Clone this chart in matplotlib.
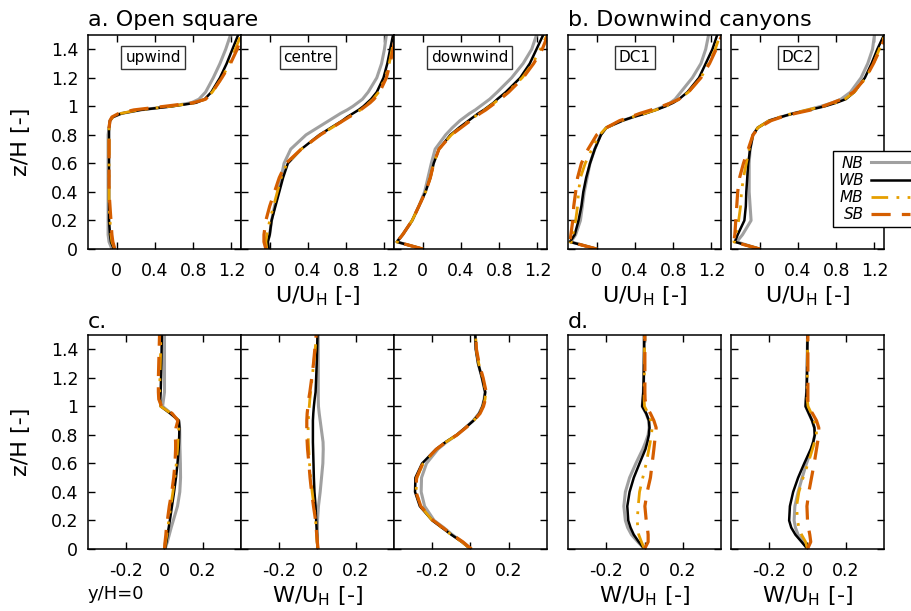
import numpy as np
import matplotlib.pyplot as plt
from matplotlib.ticker import FuncFormatter

# heights z/H (same grid for every profile of a row)
z_u = [0, 0.05, 0.1, 0.2, 0.3, 0.4, 0.5, 0.6, 0.7, 0.8, 0.85, 0.9, 0.925, 0.95, 0.975,
       1.0, 1.025, 1.05, 1.1, 1.2, 1.3, 1.4, 1.5]
z_w = [0, 0.05, 0.1, 0.15, 0.2, 0.3, 0.4, 0.5, 0.6, 0.7, 0.75, 0.8, 0.85, 0.9, 0.95,
       1.0, 1.05, 1.1, 1.2, 1.3, 1.4, 1.5]

series = ['NB', 'WB', 'MB', 'SB']
panels = ['upwind', 'centre', 'downwind', 'DC1', 'DC2']

# ---- U/UH profiles ----
u_upwind_nb = [-0.05, -0.08, -0.09, -0.09, -0.09, -0.09, -0.09, -0.09, -0.09, -0.09, -0.08, -0.07, -0.04,
               0.05, 0.25, 0.56, 0.78, 0.86, 0.93, 1.01, 1.08, 1.14, 1.19]
u_upwind_wb = [-0.03, -0.06, -0.07, -0.08, -0.08, -0.08, -0.08, -0.08, -0.08, -0.08, -0.08, -0.07, -0.04,
               0.05, 0.25, 0.58, 0.83, 0.92, 0.99, 1.08, 1.15, 1.21, 1.27]
u_upwind_mb = [-0.02, -0.05, -0.06, -0.07, -0.08, -0.08, -0.08, -0.08, -0.08, -0.08, -0.08, -0.07, -0.04,
               0.04, 0.23, 0.56, 0.82, 0.93, 1.0, 1.1, 1.18, 1.24, 1.3]
u_upwind_sb = [-0.02, -0.04, -0.05, -0.06, -0.07, -0.08, -0.08, -0.08, -0.08, -0.08, -0.08, -0.07, -0.05,
               0.02, 0.18, 0.5, 0.8, 0.93, 1.0, 1.1, 1.19, 1.26, 1.31]

u_centre_nb = [-0.01, -0.02, 0.0, 0.02, 0.05, 0.09, 0.12, 0.15, 0.22, 0.38, 0.5, 0.62, 0.68,
               0.74, 0.81, 0.87, 0.92, 0.97, 1.03, 1.12, 1.17, 1.2, 1.22]
u_centre_wb = [-0.01, -0.02, 0.0, 0.02, 0.06, 0.1, 0.14, 0.19, 0.33, 0.52, 0.64, 0.76, 0.81,
               0.87, 0.93, 0.98, 1.02, 1.06, 1.12, 1.19, 1.23, 1.26, 1.29]
u_centre_mb = [-0.03, -0.04, -0.03, 0.0, 0.04, 0.08, 0.12, 0.18, 0.33, 0.53, 0.65, 0.77, 0.83,
               0.89, 0.95, 1.0, 1.04, 1.08, 1.14, 1.21, 1.25, 1.28, 1.31]
u_centre_sb = [-0.04, -0.06, -0.06, -0.04, 0.0, 0.05, 0.1, 0.17, 0.33, 0.53, 0.65, 0.77, 0.83,
               0.89, 0.95, 1.0, 1.05, 1.09, 1.15, 1.22, 1.26, 1.29, 1.32]

u_downwind_nb = [0.0, -0.27, -0.21, -0.11, -0.04, 0.02, 0.055, 0.09, 0.13, 0.24, 0.31, 0.39, 0.44,
                 0.49, 0.55, 0.6, 0.65, 0.7, 0.78, 0.93, 1.05, 1.14, 1.19]
u_downwind_wb = [0.0, -0.27, -0.21, -0.11, -0.04, 0.03, 0.08, 0.115, 0.17, 0.29, 0.38, 0.48, 0.53,
                 0.58, 0.64, 0.69, 0.74, 0.78, 0.87, 1.02, 1.12, 1.19, 1.26]
u_downwind_mb = [0.0, -0.27, -0.21, -0.11, -0.04, 0.03, 0.08, 0.115, 0.17, 0.3, 0.39, 0.49, 0.54,
                 0.59, 0.65, 0.7, 0.75, 0.8, 0.89, 1.04, 1.15, 1.23, 1.3]
u_downwind_sb = [0.0, -0.27, -0.21, -0.11, -0.04, 0.03, 0.08, 0.115, 0.17, 0.3, 0.4, 0.5, 0.55,
                 0.6, 0.66, 0.71, 0.76, 0.81, 0.9, 1.05, 1.16, 1.25, 1.31]

u_dc1_nb = [0.0, -0.27, -0.22, -0.17, -0.15, -0.13, -0.1, -0.07, -0.02, 0.04, 0.1, 0.27, 0.38,
            0.5, 0.61, 0.7, 0.77, 0.82, 0.88, 1.0, 1.09, 1.14, 1.17]
u_dc1_wb = [0.0, -0.28, -0.23, -0.19, -0.16, -0.14, -0.11, -0.07, -0.02, 0.045, 0.1, 0.27, 0.38,
            0.51, 0.62, 0.72, 0.8, 0.86, 0.95, 1.07, 1.14, 1.21, 1.26]
u_dc1_mb = [0.0, -0.28, -0.25, -0.22, -0.2, -0.19, -0.17, -0.12, -0.05, 0.03, 0.1, 0.26, 0.37,
            0.5, 0.62, 0.72, 0.8, 0.86, 0.96, 1.09, 1.17, 1.24, 1.29]
u_dc1_sb = [0.0, -0.28, -0.27, -0.25, -0.24, -0.22, -0.2, -0.16, -0.09, 0.0, 0.1, 0.24, 0.35,
            0.45, 0.57, 0.68, 0.78, 0.86, 0.96, 1.09, 1.18, 1.25, 1.31]

u_dc2_nb = [0.0, -0.24, -0.18, -0.09, -0.1, -0.11, -0.11, -0.11, -0.1, -0.07, -0.02, 0.1, 0.22,
            0.35, 0.5, 0.64, 0.76, 0.85, 0.95, 1.06, 1.13, 1.18, 1.2]
u_dc2_wb = [0.0, -0.26, -0.23, -0.16, -0.145, -0.14, -0.13, -0.12, -0.1, -0.07, -0.02, 0.1, 0.22,
            0.35, 0.52, 0.68, 0.8, 0.9, 0.99, 1.1, 1.17, 1.23, 1.3]
u_dc2_mb = [0.0, -0.27, -0.25, -0.22, -0.2, -0.19, -0.17, -0.14, -0.11, -0.07, -0.02, 0.1, 0.21,
            0.34, 0.5, 0.66, 0.79, 0.89, 0.99, 1.11, 1.19, 1.25, 1.31]
u_dc2_sb = [0.0, -0.27, -0.26, -0.25, -0.24, -0.23, -0.21, -0.17, -0.12, -0.07, -0.01, 0.12, 0.23,
            0.37, 0.54, 0.66, 0.76, 0.86, 0.98, 1.11, 1.19, 1.26, 1.32]

# ---- W/UH profiles ----
w_upwind_nb = [0.003, 0.015, 0.025, 0.035, 0.046, 0.068, 0.08, 0.084, 0.083, 0.081, 0.08, 0.08,
               0.079, 0.075, 0.035, -0.01, -0.005, 0.0, 0.0, 0.0, 0.0, 0.0]
w_upwind_wb = [0.003, 0.01, 0.016, 0.022, 0.028, 0.039, 0.05, 0.06, 0.068, 0.074, 0.076, 0.077,
               0.078, 0.075, 0.03, -0.02, -0.022, -0.02, -0.018, -0.016, -0.015, -0.014]
w_upwind_mb = [0.0, 0.006, 0.012, 0.018, 0.022, 0.033, 0.044, 0.054, 0.062, 0.068, 0.07, 0.072,
               0.075, 0.075, 0.035, -0.02, -0.025, -0.025, -0.024, -0.022, -0.02, -0.02]
w_upwind_sb = [0.0, 0.003, 0.007, 0.01, 0.015, 0.025, 0.038, 0.048, 0.055, 0.058, 0.058, 0.056,
               0.06, 0.07, 0.04, -0.015, -0.03, -0.032, -0.032, -0.03, -0.028, -0.026]

w_centre_nb = [0.0, 0.0, 0.0, 0.0, 0.0, 0.005, 0.014, 0.021, 0.028, 0.03, 0.029, 0.024,
               0.019, 0.014, 0.009, 0.005, 0.004, 0.004, 0.004, 0.004, 0.004, 0.004]
w_centre_wb = [0.0, -0.002, -0.003, -0.005, -0.007, -0.01, -0.016, -0.019, -0.021, -0.023, -0.024, -0.024,
               -0.024, -0.024, -0.022, -0.019, -0.015, -0.01, -0.007, -0.004, -0.002, 0.0]
w_centre_mb = [0.002, -0.002, -0.005, -0.008, -0.01, -0.018, -0.028, -0.036, -0.042, -0.046, -0.048, -0.049,
               -0.049, -0.048, -0.046, -0.043, -0.04, -0.036, -0.028, -0.02, -0.012, -0.006]
w_centre_sb = [0.003, -0.001, -0.004, -0.007, -0.01, -0.021, -0.031, -0.039, -0.045, -0.052, -0.054, -0.056,
               -0.056, -0.056, -0.054, -0.05, -0.046, -0.04, -0.03, -0.021, -0.014, -0.007]

w_downwind_nb = [0.0, -0.043, -0.095, -0.14, -0.19, -0.24, -0.258, -0.256, -0.23, -0.17, -0.125, -0.07,
                 -0.027, 0.014, 0.044, 0.062, 0.071, 0.076, 0.06, 0.04, 0.028, 0.025]
w_downwind_wb = [0.0, -0.045, -0.1, -0.15, -0.2, -0.265, -0.29, -0.288, -0.253, -0.18, -0.13, -0.072,
                 -0.027, 0.016, 0.046, 0.063, 0.072, 0.077, 0.06, 0.04, 0.028, 0.025]
w_downwind_mb = [0.0, -0.045, -0.1, -0.15, -0.2, -0.26, -0.285, -0.28, -0.248, -0.176, -0.128, -0.07,
                 -0.025, 0.017, 0.048, 0.066, 0.076, 0.08, 0.064, 0.043, 0.03, 0.027]
w_downwind_sb = [0.005, -0.04, -0.095, -0.145, -0.195, -0.26, -0.285, -0.282, -0.25, -0.178, -0.128, -0.07,
                 -0.024, 0.018, 0.05, 0.068, 0.078, 0.082, 0.066, 0.045, 0.031, 0.028]

w_dc1_nb = [0.0, -0.035, -0.068, -0.088, -0.1, -0.108, -0.1, -0.078, -0.045, -0.009, 0.006, 0.019,
            0.024, 0.022, 0.008, -0.012, -0.009, -0.006, -0.004, -0.003, -0.002, -0.002]
w_dc1_wb = [0.0, -0.03, -0.056, -0.073, -0.085, -0.09, -0.078, -0.056, -0.026, 0.005, 0.015, 0.023,
            0.026, 0.023, 0.009, -0.012, -0.009, -0.006, -0.004, -0.003, -0.002, -0.002]
w_dc1_mb = [0.0, -0.016, -0.03, -0.035, -0.038, -0.033, -0.026, -0.009, 0.009, 0.023, 0.03, 0.036,
            0.04, 0.033, 0.019, 0.0, -0.002, -0.002, -0.001, 0.0, 0.0, 0.0]
w_dc1_sb = [0.0, 0.019, 0.019, 0.015, 0.009, 0.002, 0.014, 0.031, 0.04, 0.049, 0.053, 0.057,
            0.061, 0.049, 0.031, 0.009, 0.003, 0.002, 0.002, 0.002, 0.002, 0.002]

w_dc2_nb = [0.0, -0.02, -0.049, -0.063, -0.07, -0.066, -0.049, -0.028, -0.005, 0.021, 0.03, 0.038,
            0.036, 0.024, 0.007, -0.01, -0.008, -0.005, -0.003, -0.002, -0.001, 0.0]
w_dc2_wb = [0.0, -0.031, -0.063, -0.085, -0.096, -0.092, -0.075, -0.049, -0.017, 0.017, 0.03, 0.038,
            0.036, 0.024, 0.007, -0.01, -0.008, -0.005, -0.003, -0.002, -0.001, 0.0]
w_dc2_mb = [0.0, -0.01, -0.031, -0.045, -0.052, -0.057, -0.045, -0.023, 0.003, 0.026, 0.037, 0.047,
            0.045, 0.035, 0.02, 0.003, -0.002, -0.002, -0.001, 0.0, 0.0, 0.0]
w_dc2_sb = [0.0, 0.017, 0.012, 0.005, 0.0, -0.003, 0.007, 0.021, 0.035, 0.047, 0.053, 0.059,
            0.059, 0.047, 0.026, 0.003, 0.002, 0.002, 0.002, 0.002, 0.002, 0.002]

u_profiles = [
    [u_upwind_nb, u_upwind_wb, u_upwind_mb, u_upwind_sb],
    [u_centre_nb, u_centre_wb, u_centre_mb, u_centre_sb],
    [u_downwind_nb, u_downwind_wb, u_downwind_mb, u_downwind_sb],
    [u_dc1_nb, u_dc1_wb, u_dc1_mb, u_dc1_sb],
    [u_dc2_nb, u_dc2_wb, u_dc2_mb, u_dc2_sb],
]
w_profiles = [
    [w_upwind_nb, w_upwind_wb, w_upwind_mb, w_upwind_sb],
    [w_centre_nb, w_centre_wb, w_centre_mb, w_centre_sb],
    [w_downwind_nb, w_downwind_wb, w_downwind_mb, w_downwind_sb],
    [w_dc1_nb, w_dc1_wb, w_dc1_mb, w_dc1_sb],
    [w_dc2_nb, w_dc2_wb, w_dc2_mb, w_dc2_sb],
]

styles = [
    dict(color='#a0a0a0', lw=2.2, ls='-'),
    dict(color='black', lw=1.8, ls='-'),
    dict(color='#e69f00', lw=2.0, dashes=(6, 3, 1, 3, 1, 3)),
    dict(color='#d55e00', lw=2.3, dashes=(6, 3.5)),
]

W, H = 912, 611
fig = plt.figure(figsize=(W / 100, H / 100), dpi=100)

lefts = [88, 241, 394, 568, 731]
aw, ah = 153, 214
label_x = [0.38, 0.4, 0.49, 0.4, 0.4]
fmt = FuncFormatter(lambda v, p: f'{v:g}')


def make_ax(left, top):
    return fig.add_axes([left / W, 1 - (top + ah) / H, aw / W, ah / H])


handles = []
for row, (top, profiles, zz) in enumerate([(35, u_profiles, z_u), (335, w_profiles, z_w)]):
    for i, left in enumerate(lefts):
        ax = make_ax(left, top)
        for j, vals in enumerate(profiles[i]):
            line, = ax.plot(vals, zz, label=series[j], **styles[j])
            if row == 0 and i == 0:
                handles.append(line)
        ax.set_ylim(0, 1.5)
        ax.set_yticks(np.arange(0, 1.41, 0.2))
        if row == 0:
            ax.set_xlim(-0.3, 1.3)
            ax.set_xticks([0, 0.4, 0.8, 1.2])
            ax.text(label_x[i], 1.343, panels[i], ha='center', va='center', fontsize=11,
                    bbox=dict(boxstyle='square,pad=0.25', fc='white', ec='#333333', lw=1))
        else:
            ax.set_xlim(-0.4, 0.4)
            ax.set_xticks([-0.2, 0, 0.2])
        ax.xaxis.set_major_formatter(fmt)
        ax.yaxis.set_major_formatter(fmt)
        ax.tick_params(direction='in', top=True, right=True, length=5, width=1,
                       labelsize=12.5, labelleft=(i == 0))
        ax.tick_params(axis='x', pad=9)
        ax.tick_params(axis='y', pad=7)
        for s in ax.spines.values():
            s.set_linewidth(1.1)

# axis labels and titles
for top in (35, 335):
    fig.text(21 / W, 1 - (top + ah / 2) / H, 'z/H [-]', rotation=90, ha='center', va='center', fontsize=16)
for i in (1, 3, 4):
    cx = (lefts[i] + aw / 2) / W
    fig.text(cx, 1 - 302 / H, r'U/U$_{\mathregular{H}}$ [-]', ha='center', va='baseline', fontsize=16)
    fig.text(cx, 1 - 602 / H, r'W/U$_{\mathregular{H}}$ [-]', ha='center', va='baseline', fontsize=16)
fig.text(88 / W, 1 - 599 / H, 'y/H=0', ha='left', va='baseline', fontsize=13)

fig.text(88 / W, 1 - 26 / H, 'a. Open square', ha='left', va='baseline', fontsize=16)
fig.text(568 / W, 1 - 26 / H, 'b. Downwind canyons', ha='left', va='baseline', fontsize=16)
fig.text(88 / W, 1 - 328 / H, 'c.', ha='left', va='baseline', fontsize=16)
fig.text(568 / W, 1 - 328 / H, 'd.', ha='left', va='baseline', fontsize=16)

fig.legend(handles, series, loc='upper left', bbox_to_anchor=(833.5 / W, 1 - 151 / H),
           markerfirst=False, fancybox=False, framealpha=1, edgecolor='black',
           prop={'style': 'italic', 'size': 11}, handlelength=2.5, handletextpad=0.5,
           labelspacing=0.15, borderpad=0.3, borderaxespad=0)

fig.savefig('out.png', dpi=100)
